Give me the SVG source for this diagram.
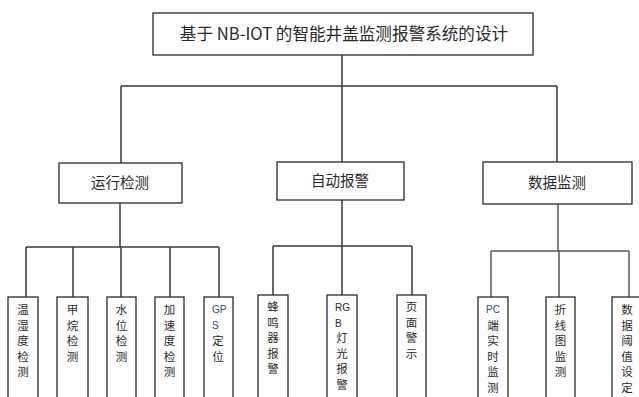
<svg xmlns="http://www.w3.org/2000/svg" width="639" height="397" viewBox="0 0 639 397">
<style>
.box{fill:#fff;stroke:#2a2a2a;stroke-width:1.3}
.ln{fill:none;stroke:#3a3a3a;stroke-width:1.5}
text{font-family:"Noto Sans CJK SC","Liberation Sans",sans-serif;fill:#2a2a2a}
.t1{font-size:16.6px}
.t2{font-size:14.5px;text-anchor:middle}
.t3{font-size:11.5px;text-anchor:middle}
.lat{font-family:"Liberation Sans","Noto Sans CJK SC",sans-serif;font-size:10px;fill:#2f4a7a}
</style>
<rect width="639" height="397" fill="#fff"/>
<g id="connectors">
<path class="ln" d="M342 55V86M121 86H557M121 86V163M342 86V162M557 86V162"/>
<path class="ln" d="M120 203V247M26 247H219M26 247V297M73 247V297M121 247V297M170 247V297M219 247V297"/>
<path class="ln" d="M342 200V246M273 246H412M273 246V295M342 246V295M412 246V295"/>
<path class="ln" d="M558 204V251M491 251H629M491 251V297M559 251V297M629 251V297" style="stroke:#555"/>
</g>
<g id="root"><rect class="box" x="153" y="13" width="380" height="42"/>
<text class="t1" x="344" y="40" text-anchor="middle">基于 NB-IOT 的智能井盖监测报警系统的设计</text></g>
<g id="n-yunxing"><rect class="box" x="59" y="163" width="123" height="40"/><text class="t2" x="120" y="188">运行检测</text></g>
<g id="n-zidong"><rect class="box" x="277" y="162" width="127" height="38"/><text class="t2" x="340" y="186">自动报警</text></g>
<g id="n-shuju"><rect class="box" x="483" y="162" width="149" height="42"/><text class="t2" x="557" y="188">数据监测</text></g>

<g id="n-wenshidu"><rect class="box" x="8" y="297" width="30" height="105"/>
<text class="t3" x="23" y="314">温</text><text class="t3" x="23" y="330">湿</text><text class="t3" x="23" y="345">度</text><text class="t3" x="23" y="361">检</text><text class="t3" x="23" y="376">测</text></g>
<g id="n-jiawan"><rect class="box" x="57" y="297" width="31" height="105"/>
<text class="t3" x="72.5" y="314">甲</text><text class="t3" x="72.5" y="330">烷</text><text class="t3" x="72.5" y="345">检</text><text class="t3" x="72.5" y="361">测</text></g>
<g id="n-shuiwei"><rect class="box" x="107" y="297" width="29" height="105"/>
<text class="t3" x="121.5" y="314">水</text><text class="t3" x="121.5" y="330">位</text><text class="t3" x="121.5" y="345">检</text><text class="t3" x="121.5" y="361">测</text></g>
<g id="n-jiasudu"><rect class="box" x="155" y="297" width="29" height="105"/>
<text class="t3" x="169.5" y="314">加</text><text class="t3" x="169.5" y="330">速</text><text class="t3" x="169.5" y="345">度</text><text class="t3" x="169.5" y="361">检</text><text class="t3" x="169.5" y="376">测</text></g>
<g id="n-gps"><rect class="box" x="204" y="297" width="29" height="105"/>
<text class="lat" x="212" y="313">GP</text><text class="lat" x="212" y="329">S</text><text class="t3" x="218" y="345">定</text><text class="t3" x="218" y="361">位</text></g>

<g id="n-fengming"><rect class="box" x="258" y="295" width="30" height="107"/>
<text class="t3" x="273" y="311">蜂</text><text class="t3" x="273" y="327">鸣</text><text class="t3" x="273" y="342">器</text><text class="t3" x="273" y="358">报</text><text class="t3" x="273" y="373">警</text></g>
<g id="n-rgb"><rect class="box" x="327" y="295" width="30" height="107"/>
<text class="lat" x="335" y="311" style="fill:#2a2a2a">RG</text><text class="lat" x="335" y="327" style="fill:#2a2a2a">B</text><text class="t3" x="342" y="342">灯</text><text class="t3" x="342" y="358">光</text><text class="t3" x="342" y="373">报</text><text class="t3" x="342" y="389">警</text></g>
<g id="n-yemian"><rect class="box" x="397" y="295" width="29" height="107"/>
<text class="t3" x="411.5" y="311">页</text><text class="t3" x="411.5" y="327">面</text><text class="t3" x="411.5" y="342">警</text><text class="t3" x="411.5" y="358">示</text></g>

<g id="n-pc"><rect class="box" x="478" y="297" width="30" height="105"/>
<text class="lat" x="486" y="313">PC</text><text class="t3" x="493" y="330">端</text><text class="t3" x="493" y="345">实</text><text class="t3" x="493" y="361">时</text><text class="t3" x="493" y="376">监</text><text class="t3" x="493" y="392">测</text></g>
<g id="n-zhexian"><rect class="box" x="546" y="297" width="29" height="105"/>
<text class="t3" x="560.5" y="314">折</text><text class="t3" x="560.5" y="330">线</text><text class="t3" x="560.5" y="345">图</text><text class="t3" x="560.5" y="361">监</text><text class="t3" x="560.5" y="376">测</text></g>
<g id="n-yuzhi"><rect class="box" x="612" y="297" width="30" height="105"/>
<text class="t3" x="627" y="314">数</text><text class="t3" x="627" y="330">据</text><text class="t3" x="627" y="345">阈</text><text class="t3" x="627" y="361">值</text><text class="t3" x="627" y="376">设</text><text class="t3" x="627" y="392">定</text></g>
</svg>
